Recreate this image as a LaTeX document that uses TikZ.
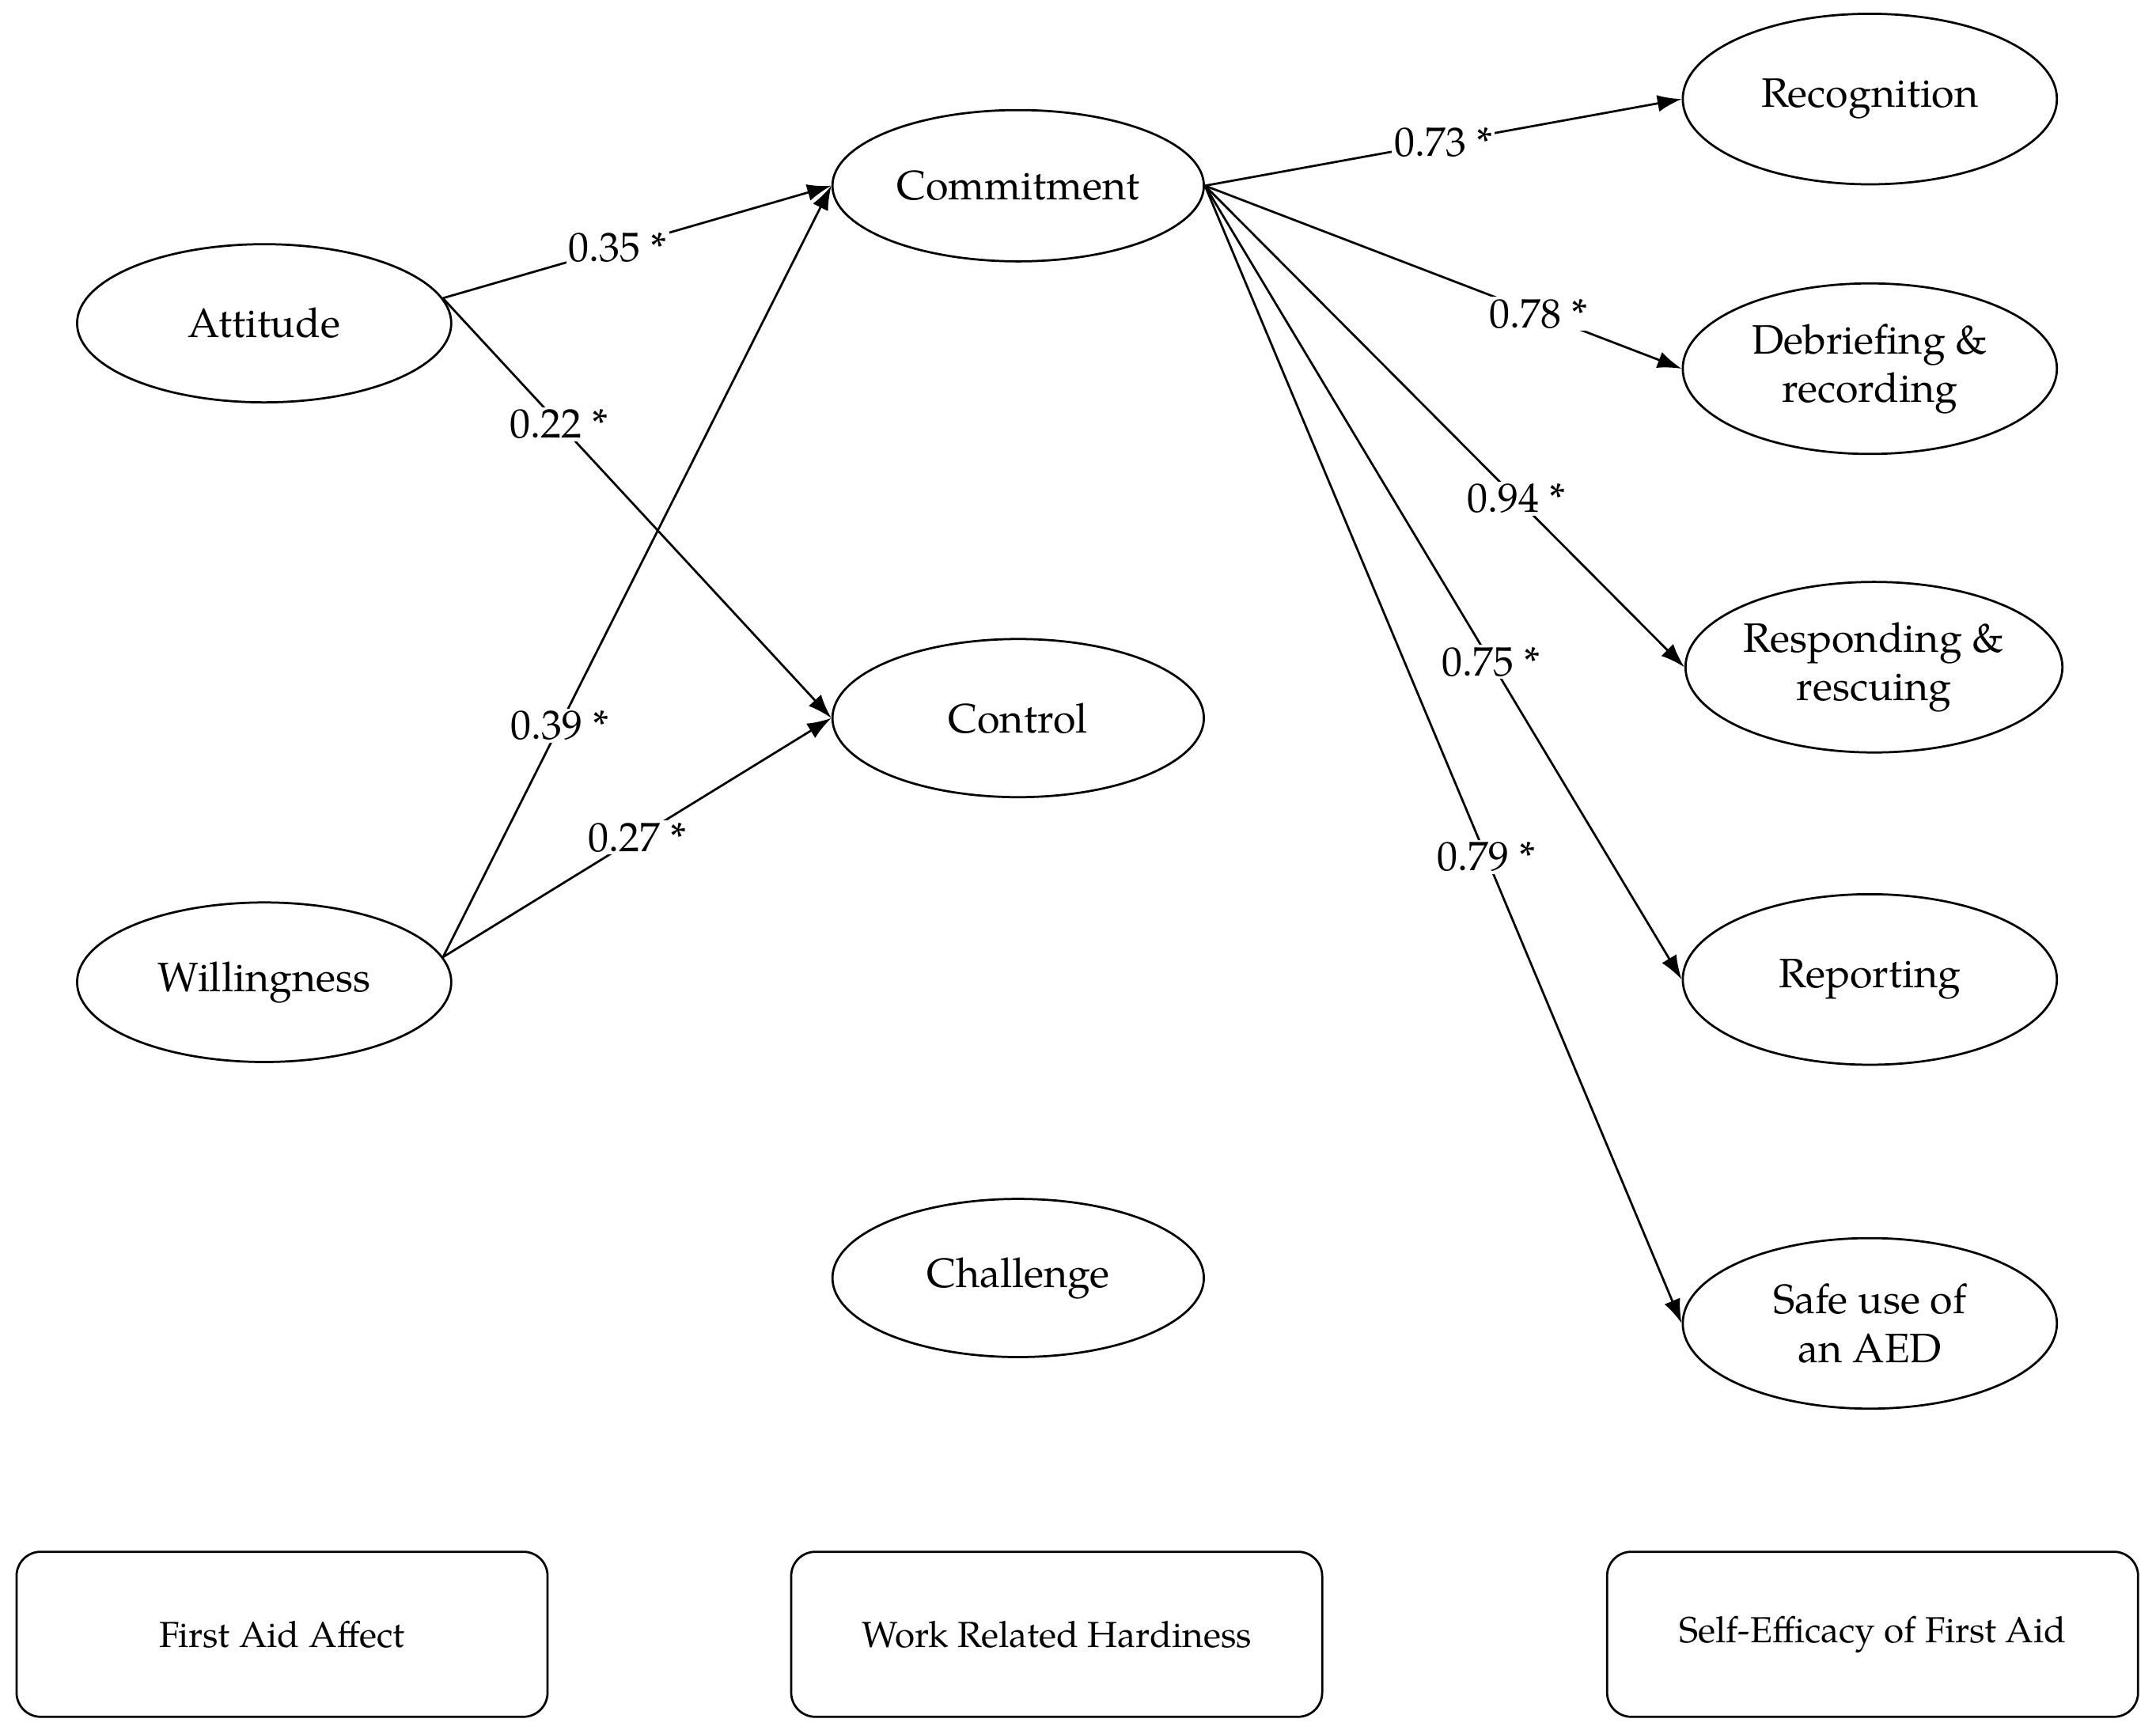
\documentclass[tikz,border=0pt]{standalone}
\usepackage{fontspec}
\setmainfont{TeX Gyre Pagella}
\usetikzlibrary{shapes.geometric,arrows.meta}
\begin{document}
\begin{tikzpicture}[x=0.02cm,y=-0.02cm,
  el/.style={ellipse,draw,line width=0.9pt,minimum width=5.44cm,minimum height=2.3cm,align=center,font=\fontsize{17}{20}\selectfont,inner sep=0pt},
  bx/.style={draw,rounded corners=10pt,line width=0.9pt,minimum width=7.72cm,minimum height=2.4cm,font=\fontsize{15}{18}\selectfont},
  ar/.style={-{Latex[length=10pt,width=7pt]},line width=0.9pt},
  lb/.style={fill=white,inner sep=1pt,font=\fontsize{17}{20}\selectfont}]
\useasboundingbox (0,0) rectangle (1567,1260);
\node[el] (att) at (192,235) {Attitude};
\node[el,minimum height=2.32cm] (wil) at (192,714) {Willingness};
\node[el,minimum width=5.4cm,minimum height=2.2cm] (com) at (740,135) {Commitment};
\node[el,minimum width=5.4cm] (con) at (740,522) {Control};
\node[el,minimum width=5.4cm] (cha) at (740,929) {Challenge};
\node[el,minimum height=2.48cm] (rec) at (1359,72) {Recognition};
\node[el,minimum height=2.48cm] (deb) at (1359,268) {Debriefing \&\\recording};
\node[el,minimum width=5.48cm,minimum height=2.48cm] (res) at (1362,485) {Responding \&\\rescuing};
\node[el,minimum height=2.48cm] (rep) at (1359,712) {Reporting};
\node[el,minimum height=2.48cm] (saf) at (1359,962) {Safe use of\\an AED};
\node[bx] (b1) at (205,1188) {First Aid Affect};
\node[bx] (b2) at (768,1188) {Work Related Hardiness};
\node[bx] (b3) at (1361,1188) {Self-Efficacy of First Aid};
\draw[ar] (att.8) -- node[lb,pos=0.45]{0.35 *} (com.west);
\draw[ar] (att.8) -- node[lb,pos=0.3]{0.22 *} (con.west);
\draw[ar] (wil.8) -- node[lb,pos=0.3]{0.39 *} (com.west);
\draw[ar] (wil.8) -- node[lb,pos=0.5]{0.27 *} (con.west);
\draw[ar] (com.east) -- node[lb,pos=0.5]{0.73 *} (rec.west);
\draw[ar] (com.east) -- node[lb,pos=0.7]{0.78 *} (deb.west);
\draw[ar] (com.east) -- node[lb,pos=0.65]{0.94 *} (res.west);
\draw[ar] (com.east) -- node[lb,pos=0.6]{0.75 *} (rep.west);
\draw[ar] (com.east) -- node[lb,pos=0.59]{0.79 *} (saf.west);
\end{tikzpicture}
\end{document}
